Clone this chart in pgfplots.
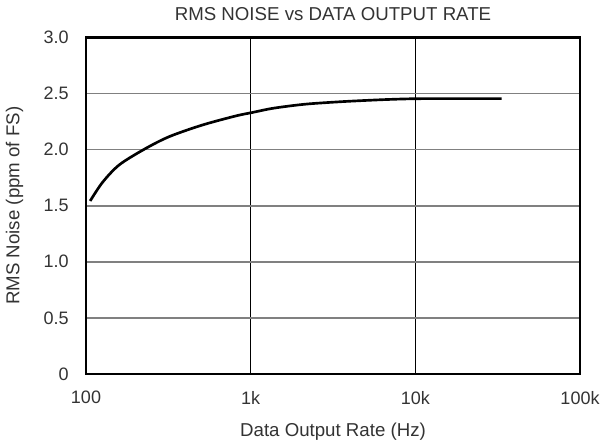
\documentclass[border=0pt]{standalone}
\usepackage{pgfplots}
\pgfplotsset{compat=1.18}
\usepackage{fontspec}
\setmainfont{Liberation Sans}
\definecolor{txt}{gray}{0.2}
\begin{document}
\begin{tikzpicture}[x=1pt,y=1pt]
\path[use as bounding box] (-64.5pt,-54pt) rectangle (389.25pt,280.5pt);
\begin{axis}[
  at={(0,0)}, anchor=south west,
  scale only axis,
  width=370.5pt, height=252.5pt,
  xmode=log, log basis x=10,
  xmin=100, xmax=100000,
  ymin=0, ymax=3,
  xtick={100,1000,10000,100000},
  xticklabels={100,1k,10k,100k},
  ytick={0,0.5,1,1.5,2,2.5,3},
  yticklabels={0,0.5,1.0,1.5,2.0,2.5,3.0},
  minor xtick={},
  major tick length=0pt,
  tick style={draw=none},
  axis line style={line width=1.9pt, black},
  xmajorgrids, ymajorgrids,
  x grid style={line width=0.8pt, black},
  y grid style={line width=1.3pt, gray},
  font=\fontsize{14}{16}\selectfont\color{txt},
  ticklabel style={font=\fontsize{13.5}{16}\selectfont, text=txt},
  /pgf/number format/assume math mode=true,
  xticklabel style={yshift=-9.3pt},
  yticklabel style={xshift=-9.5pt},
  xlabel={Data Output Rate (Hz)},
  ylabel={RMS Noise (ppm of FS)},
  xlabel style={at={(axis description cs:0.5,0)}, anchor=north, yshift=-33.4pt, text=txt},
  ylabel style={at={(axis description cs:0,0.5)}, anchor=center, yshift=53.5pt, text=txt},
  title={RMS NOISE vs DATA OUTPUT RATE},
  title style={at={(axis description cs:0.5,1)}, anchor=center, yshift=11.5pt, text=txt},
]
\addplot[black, line width=2pt, smooth, tension=0.5] coordinates {
  (106,1.542) (126,1.708) (159,1.863) (226,2.003) (320,2.115)
  (510,2.219) (815,2.300) (1014,2.329) (1370,2.368) (2135,2.404)
  (3500,2.426) (5400,2.440) (7350,2.448) (10000,2.453) (15000,2.454) (33400,2.454)
};
\end{axis}
\end{tikzpicture}
\end{document}
